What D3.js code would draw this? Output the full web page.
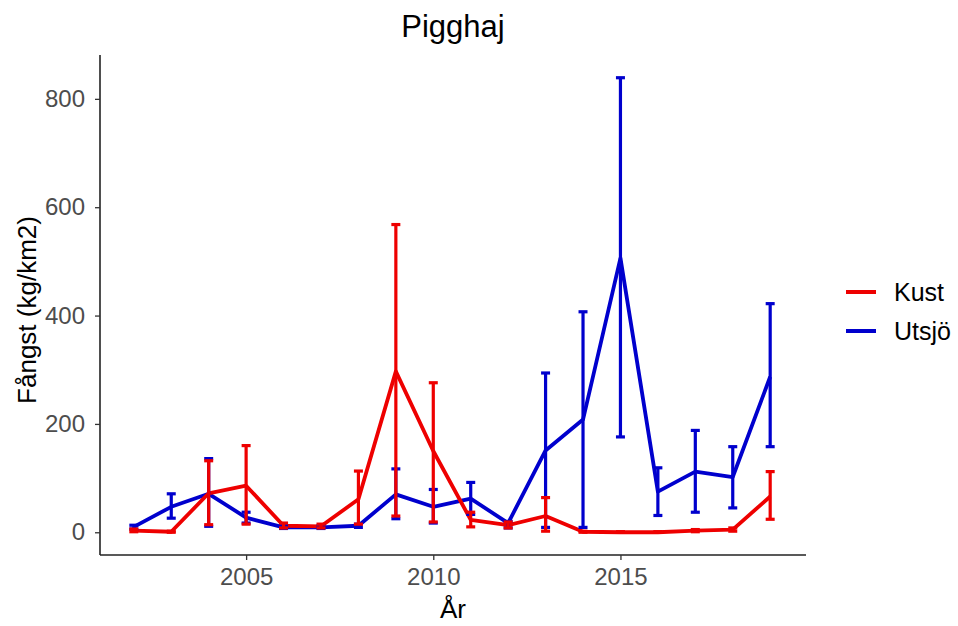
<!DOCTYPE html>
<html>
<head>
<meta charset="utf-8">
<script src="https://cdn.jsdelivr.net/npm/d3@7/dist/d3.min.js"></script>
<style>
  body { margin: 0; background: #fff; }
  svg { display: block; font-family: Arial, "Liberation Sans", sans-serif; }
</style>
</head>
<body>
<svg id="chart" width="958" height="626"></svg>
<script>
const years = [2002,2003,2004,2005,2006,2007,2008,2009,2010,2011,2012,2013,2014,2015,2016,2017,2018,2019];
const kustMean  = [3, 1, 72, 86, 12, 11, 61, 297, 150, 23, 13, 30, 1, 0, 0, 3, 5, 66];
const kustLow   = [1, 0, 14, 15, 8, 8, 15, 30, 19, 10, 8, 2, 0, 0, 0, 1, 2, 24];
const kustHigh  = [6, 2, 132, 160, 17, 15, 113, 568, 276, 37, 19, 64, 2, 1, 1, 5, 8, 112];
const utsjoMean = [10, 47, 71, 27, 9, 9, 12, 70, 47, 62, 17, 151, 208, 506, 75, 112, 102, 287];
const utsjoLow  = [6, 26, 11, 17, 7, 7, 9, 25, 17, 33, 8, 9, 9, 176, 31, 37, 45, 158];
const utsjoHigh = [13, 71, 136, 37, 13, 12, 15, 117, 79, 92, 20, 294, 407, 839, 119, 188, 158, 422];
const seriesNames = ["Kust", "Utsjö"];
const seriesColors = ["#EE0000", "#0000CD"];
const yTicks = [0, 200, 400, 600, 800];
const xTicks = [2005, 2010, 2015];

const svg = d3.select("#chart");
const m = { left: 100, right: 806, top: 55, bottom: 555 };

const x = d3.scaleLinear().domain([2001.15, 2019.85]).range([102, 802]);
const y = d3.scaleLinear().domain([-41.95, 880.95]).range([m.bottom, m.top]);

const series = [
  { name: seriesNames[0], color: seriesColors[0], mean: kustMean, low: kustLow, high: kustHigh },
  { name: seriesNames[1], color: seriesColors[1], mean: utsjoMean, low: utsjoLow, high: utsjoHigh }
];
const drawOrder = [series[1], series[0]];

const line = d3.line().x(d => x(d.year)).y(d => y(d.v));
const plot = svg.append("g");

drawOrder.forEach(s => {
  const pts = years.map((yr, i) => ({ year: yr, v: s.mean[i] }));
  plot.append("path").datum(pts)
    .attr("d", line)
    .attr("fill", "none")
    .attr("stroke", s.color)
    .attr("stroke-width", 3.8)
    .attr("stroke-linejoin", "round");
});

const capW = 4.5;
drawOrder.forEach(s => {
  const g = plot.append("g").attr("stroke", s.color).attr("stroke-width", 3.2).attr("fill", "none");
  years.forEach((yr, i) => {
    const cx = x(yr);
    g.append("line").attr("x1", cx).attr("x2", cx).attr("y1", y(s.low[i])).attr("y2", y(s.high[i]));
    g.append("line").attr("x1", cx - capW).attr("x2", cx + capW).attr("y1", y(s.low[i])).attr("y2", y(s.low[i]));
    g.append("line").attr("x1", cx - capW).attr("x2", cx + capW).attr("y1", y(s.high[i])).attr("y2", y(s.high[i]));
  });
});

// axes
const xAxis = d3.axisBottom(x).tickValues(xTicks).tickFormat(d3.format("d")).tickSize(5).tickPadding(8);
const yAxis = d3.axisLeft(y).tickValues(yTicks).tickSize(5).tickPadding(10);

const gx = svg.append("g").attr("transform", `translate(0,${m.bottom})`).call(xAxis);
const gy = svg.append("g").attr("transform", `translate(${m.left},0)`).call(yAxis);
[gx, gy].forEach(g => {
  g.select(".domain").attr("stroke", "#222").attr("stroke-width", 1.6);
  g.selectAll(".tick line").attr("stroke", "#333").attr("stroke-width", 1.3);
  g.selectAll(".tick text").attr("fill", "#4D4D4D").attr("font-size", "24px").attr("font-family", "Arial, 'Liberation Sans', sans-serif");
});
gx.select(".domain").attr("d", `M${m.left},0H${m.right}`);
gy.select(".domain").attr("d", `M0,${m.bottom}V${m.top}`);

// titles
svg.append("text").attr("x", (m.left + m.right) / 2).attr("y", 37)
  .attr("text-anchor", "middle").attr("font-size", "31px").attr("fill", "#000").text("Pigghaj");
svg.append("text").attr("x", (m.left + m.right) / 2).attr("y", 618)
  .attr("text-anchor", "middle").attr("font-size", "26px").attr("fill", "#000").text("År");
svg.append("text").attr("transform", `translate(36,310) rotate(-90)`)
  .attr("text-anchor", "middle").attr("font-size", "26px").attr("fill", "#000").text("Fångst (kg/km2)");

// legend
const leg = svg.append("g");
series.forEach((s, i) => {
  const ly = 292 + i * 39;
  leg.append("line").attr("x1", 846).attr("x2", 876).attr("y1", ly).attr("y2", ly)
    .attr("stroke", s.color).attr("stroke-width", 4);
  leg.append("text").attr("x", 894).attr("y", ly + 9).attr("font-size", "25px").attr("fill", "#000").text(s.name);
});
</script>
</body>
</html>
